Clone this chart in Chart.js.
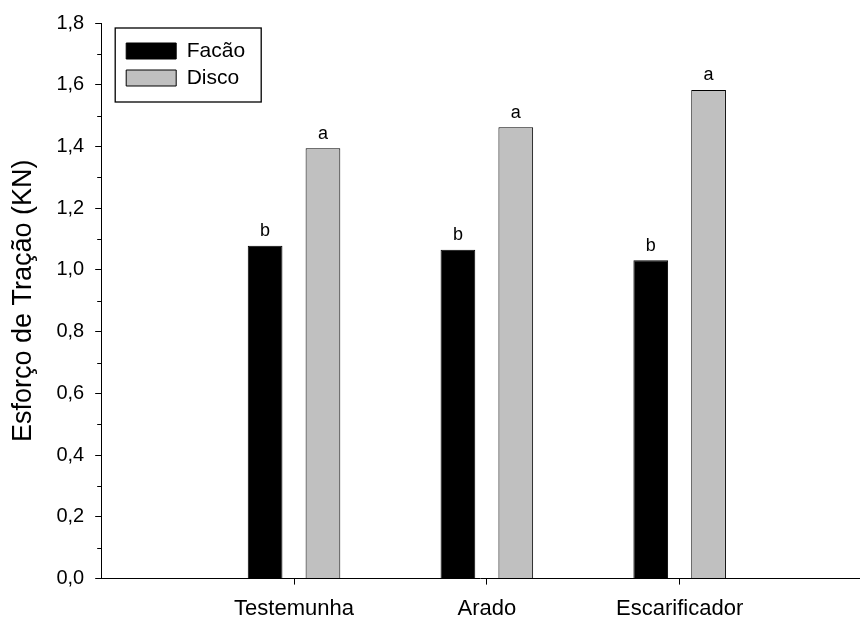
<!DOCTYPE html>
<html>
<head>
<meta charset="utf-8">
<script src="https://cdn.jsdelivr.net/npm/chart.js@4.4.1/dist/chart.umd.min.js"></script>
<style>
  html, body { margin: 0; padding: 0; background: #fff; }
  #wrap { width: 860px; height: 618px; }
</style>
</head>
<body>
<div id="wrap"><canvas id="c" width="860" height="618"></canvas></div>
<script>
const categories = ['Testemunha', 'Arado', 'Escarificador'];
const facao = [1.078, 1.065, 1.031];
const disco = [1.394, 1.462, 1.583];
const lettersFacao = ['b', 'b', 'b'];
const lettersDisco = ['a', 'a', 'a'];
const seriesNames = ['Facão', 'Disco'];
const yAxisTitle = 'Esforço de Tração (KN)';
const yMin = 0, yMax = 1.8, yStep = 0.2;

const FONT = "'Liberation Sans', Arial, sans-serif";
const letters = [lettersFacao, lettersDisco];

const legendPlacement = {
  id: 'legendPlacement',
  afterLayout(chart) {
    const lg = chart.legend, ca = chart.chartArea;
    lg.left = ca.left + 19;
    lg.top = ca.top + 11.5;
    lg.right = lg.left + 200;
    lg.bottom = lg.top + 100;
  },
  afterDraw(chart) {
    const lg = chart.legend, ctx = chart.ctx;
    ctx.save();
    ctx.strokeStyle = '#000';
    ctx.lineWidth = 1.3;
    ctx.strokeRect(lg.left - 5, lg.top - 6.5, 146, 74);
    ctx.restore();
  }
};

const minorTicks = {
  id: 'minorTicks',
  afterDraw(chart) {
    const s = chart.scales.y, ctx = chart.ctx;
    ctx.save();
    ctx.strokeStyle = '#000';
    ctx.lineWidth = 1;
    for (let i = 0; i < s.ticks.length - 1; i++) {
      const mid = (s.ticks[i].value + s.ticks[i + 1].value) / 2;
      const py = Math.round(s.getPixelForValue(mid)) + 0.5;
      ctx.beginPath();
      ctx.moveTo(s.right - 4, py);
      ctx.lineTo(s.right, py);
      ctx.stroke();
    }
    ctx.restore();
  }
};

const barLetters = {
  id: 'barLetters',
  afterDatasetsDraw(chart) {
    const ctx = chart.ctx;
    ctx.save();
    ctx.fillStyle = '#000';
    ctx.font = '18px ' + FONT;
    ctx.textAlign = 'center';
    ctx.textBaseline = 'alphabetic';
    chart.data.datasets.forEach((ds, di) => {
      chart.getDatasetMeta(di).data.forEach((bar, i) => {
        ctx.fillText(letters[di][i], bar.x, bar.y - 9.5);
      });
    });
    ctx.restore();
  }
};

new Chart(document.getElementById('c'), {
  type: 'bar',
  data: {
    datasets: [
      {
        label: seriesNames[0],
        data: categories.map((c, i) => ({ x: i + 1, y: facao[i] })),
        backgroundColor: '#000000',
        borderColor: '#000000',
        borderWidth: 1
      },
      {
        label: seriesNames[1],
        data: categories.map((c, i) => ({ x: i + 1, y: disco[i] })),
        backgroundColor: '#c0c0c0',
        borderColor: '#000000',
        borderWidth: 1
      }
    ]
  },
  options: {
    responsive: false,
    animation: false,
    categoryPercentage: 0.6,
    barPercentage: 0.6,
    layout: { padding: { left: 7, top: 23, right: 1, bottom: -15 } },
    plugins: {
      legend: {
        position: 'chartArea',
        align: 'start',
        labels: {
          boxWidth: 50,
          boxHeight: 16,
          padding: 6,
          color: '#000',
          font: { family: FONT, size: 21 }
        }
      },
      tooltip: { enabled: false }
    },
    scales: {
      x: {
        type: 'linear',
        min: 0,
        max: 3.93,
        offset: false,
        afterBuildTicks(scale) {
          scale.ticks = categories.map((c, i) => ({ value: i + 1 }));
        },
        ticks: {
          color: '#000',
          padding: 11,
          maxRotation: 0,
          font: { family: FONT, size: 22 },
          callback: (v) => categories[v - 1]
        },
        grid: {
          offset: false,
          drawOnChartArea: false,
          drawTicks: true,
          tickLength: 6,
          color: '#000'
        },
        border: { display: true, color: '#000', width: 1 }
      },
      y: {
        min: yMin,
        max: yMax,
        ticks: {
          stepSize: yStep,
          color: '#000',
          padding: 11,
          font: { family: FONT, size: 20 },
          callback: (v) => Number(v).toFixed(1).replace('.', ',')
        },
        grid: {
          drawOnChartArea: false,
          drawTicks: true,
          tickLength: 6,
          color: '#000'
        },
        border: { display: true, color: '#000', width: 1 },
        title: {
          display: true,
          text: yAxisTitle,
          color: '#000',
          font: { family: FONT, size: 27 },
          padding: { top: 0, bottom: 6 }
        }
      }
    }
  },
  plugins: [legendPlacement, minorTicks, barLetters]
});
</script>
</body>
</html>
